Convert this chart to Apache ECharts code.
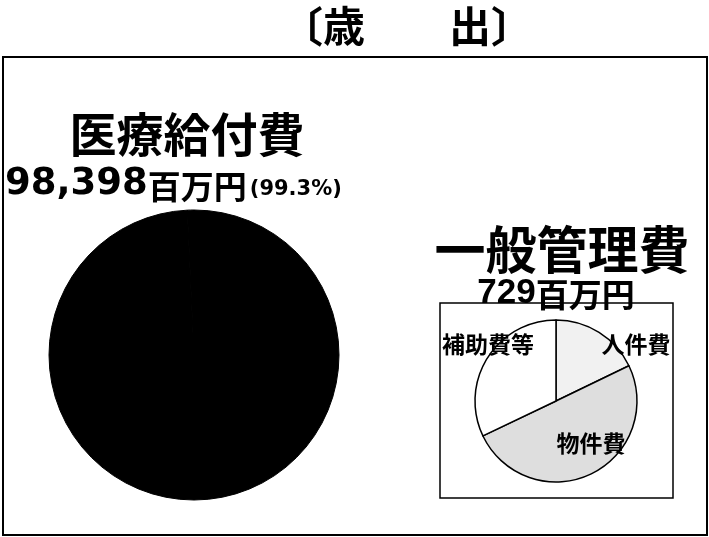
<!DOCTYPE html>
<html><head><meta charset="utf-8">
<script src="https://cdn.jsdelivr.net/npm/echarts@6/dist/echarts.min.js"></script>
<style>html,body{margin:0;padding:0;background:#fff}#c{width:709px;height:537px}</style>
</head><body><div id="c"></div>
<script>
// ---- data ----
const titleText = '〔歳　　出〕';
const unitText = '百万円';
const mainCategories = ['医療給付費', '一般管理費'];
const mainValues = [98398, 729];          // 百万円
const adminCategories = ['人件費', '物件費', '補助費等'];
const adminValues = [130, 365, 234];      // 百万円 (一般管理費の内訳)

// ---- helpers ----
const fmt = v => v.toLocaleString('en-US');
const mainTotal = mainValues.reduce((a, b) => a + b, 0);
const mainPct = (mainValues[0] / mainTotal * 100).toFixed(1);
const JP = '"Noto Sans CJK JP", sans-serif';
const NUM = '"Liberation Sans", Arial, sans-serif';
const NUMW = '"DejaVu Sans", sans-serif';

const adminLabelPos = { '人件費': [636, 344], '物件費': [591, 443], '補助費等': [488, 344] };

const chart = echarts.init(document.getElementById('c'), null, { renderer: 'canvas' });
chart.setOption({
  backgroundColor: '#fff',
  animation: false,
  graphic: [
    { type: 'rect', shape: { x: 3, y: 57, width: 704, height: 478 },
      style: { fill: 'none', stroke: '#000', lineWidth: 2 } },
    { type: 'rect', shape: { x: 440, y: 303, width: 233, height: 195 },
      style: { fill: 'none', stroke: '#000', lineWidth: 1.5 } },
    { type: 'text', x: 407, y: 26,
      style: { text: titleText, font: 'bold 42px ' + JP, fill: '#000', textAlign: 'center', textVerticalAlign: 'middle' } },
    { type: 'text', x: 187, y: 134,
      style: { text: mainCategories[0], font: 'bold 47px ' + JP, fill: '#000', textAlign: 'center', textVerticalAlign: 'middle' } },
    { type: 'text', x: 5, y: 184,
      style: {
        text: '{n|' + fmt(mainValues[0]) + '}{u|' + unitText + '}{p|(' + mainPct + '%)}',
        textVerticalAlign: 'middle', textAlign: 'left',
        rich: {
          n: { font: 'bold 37px ' + NUMW, fill: '#000', verticalAlign: 'bottom' },
          u: { font: 'bold 33px ' + JP, fill: '#000', verticalAlign: 'bottom' },
          p: { font: 'bold 21px ' + NUMW, fill: '#000', verticalAlign: 'bottom', padding: [0, 0, 2, 3] }
        }
      } },
    { type: 'text', x: 562, y: 250,
      style: { text: mainCategories[1], font: 'bold 51px ' + JP, fill: '#000', textAlign: 'center', textVerticalAlign: 'middle' } },
    { type: 'text', x: 556, y: 293,
      style: {
        text: '{n|' + fmt(mainValues[1]) + '}{u|' + unitText + '}',
        textAlign: 'center', textVerticalAlign: 'middle',
        rich: {
          n: { font: 'bold 35px ' + NUM, fill: '#000', verticalAlign: 'bottom' },
          u: { font: 'bold 33px ' + JP, fill: '#000', verticalAlign: 'bottom' }
        }
      } }
  ],
  series: [
    {
      type: 'pie', name: '歳出', center: [194, 355], radius: 145,
      startAngle: 90, clockwise: true, silent: true,
      label: { show: false }, labelLine: { show: false },
      itemStyle: { color: '#000', borderColor: '#000', borderWidth: 1 },
      data: mainCategories.map((n, i) => ({ name: n, value: mainValues[i] }))
    },
    {
      type: 'pie', name: '一般管理費', center: [556, 401], radius: 81,
      startAngle: 90, clockwise: true, silent: true, avoidLabelOverlap: false,
      itemStyle: { borderColor: '#000', borderWidth: 1.5 },
      label: { show: true, position: 'outside', formatter: '{b}', color: '#000',
        fontFamily: 'Noto Sans CJK JP', fontWeight: 'bold', fontSize: 23 },
      labelLine: { show: false },
      labelLayout: function (p) {
        const pos = adminLabelPos[adminCategories[p.dataIndex]];
        return { x: pos[0], y: pos[1], align: 'center', verticalAlign: 'middle' };
      },
      color: ['#f1f1f1', '#dedede', '#ffffff'],
      data: adminCategories.map((n, i) => ({ name: n, value: adminValues[i] }))
    }
  ]
});
</script></body></html>
